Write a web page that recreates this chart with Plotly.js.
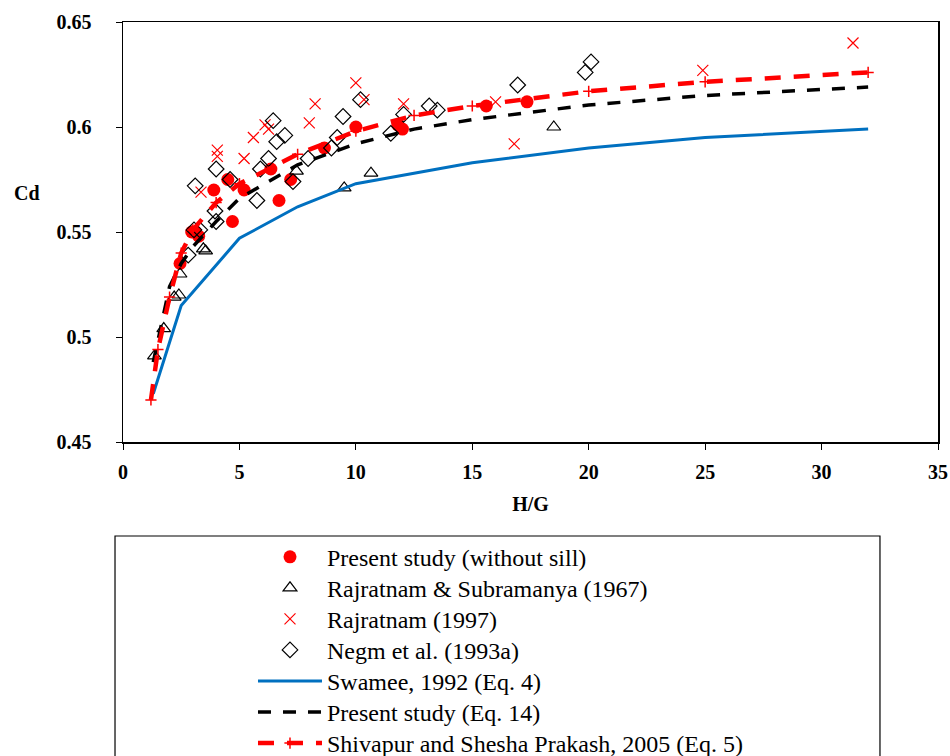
<!DOCTYPE html>
<html>
<head>
<meta charset="utf-8">
<script src="https://cdn.plot.ly/plotly-3.0.1.min.js"></script>
<style>html,body{margin:0;padding:0;background:#fff;}#chart{width:950px;height:756px;}</style>
</head>
<body>
<div id="chart"></div>
<script>
// Present study (without sill)
const presentX = [2.45, 2.95, 3.1, 3.25, 3.9, 4.5, 4.7, 5.2, 6.35, 6.7, 7.2, 8.65, 10.0, 11.8, 12.0, 15.6, 17.35];
const presentY = [0.535, 0.550, 0.550, 0.548, 0.570, 0.575, 0.555, 0.570, 0.580, 0.565, 0.575, 0.590, 0.600, 0.601, 0.599, 0.610, 0.612];
// Rajratnam & Subramanya (1967)
const rsX = [1.35, 1.75, 2.2, 2.4, 2.45, 3.45, 3.55, 7.45, 9.5, 10.65, 18.5];
const rsY = [0.491, 0.504, 0.519, 0.520, 0.530, 0.542, 0.541, 0.579, 0.571, 0.578, 0.600];
// Rajratnam (1997)
const rajX = [3.35, 4.05, 4.05, 5.2, 5.6, 6.1, 6.25, 8.0, 8.25, 10.0, 10.35, 12.05, 16.0, 16.8, 24.9, 31.35];
const rajY = [0.569, 0.589, 0.586, 0.585, 0.595, 0.601, 0.599, 0.602, 0.611, 0.621, 0.613, 0.611, 0.612, 0.592, 0.627, 0.640];
// Negm et al. (1993a)
const negmX = [2.8, 3.05, 3.3, 3.1, 3.95, 4.0, 4.0, 4.6, 5.75, 5.9, 6.25, 6.45, 6.6, 6.95, 7.3, 7.95, 8.95, 9.2, 9.45, 10.2, 11.5, 12.05, 13.15, 13.5, 16.95, 19.85, 20.1];
const negmY = [0.539, 0.551, 0.551, 0.572, 0.560, 0.555, 0.580, 0.575, 0.565, 0.580, 0.585, 0.603, 0.593, 0.596, 0.574, 0.585, 0.590, 0.595, 0.605, 0.613, 0.597, 0.606, 0.610, 0.608, 0.620, 0.626, 0.631];
// Swamee, 1992 (Eq. 4)
const swameeX = [1.3, 2.5, 5, 7.5, 10, 15, 20, 25, 32];
const swameeY = [0.473, 0.515, 0.547, 0.562, 0.573, 0.583, 0.590, 0.595, 0.599];
// Present study (Eq. 14)
const eq14X = [1.3, 1.5, 2, 2.5, 3, 4, 5, 7.5, 10, 12.5, 15, 20, 25, 32];
const eq14Y = [0.488, 0.498, 0.524, 0.535, 0.543, 0.555, 0.566, 0.582, 0.592, 0.599, 0.6035, 0.6105, 0.615, 0.619];
// Shivapur and Shesha Prakash, 2005 (Eq. 5)
const shivX = [1.2, 1.5, 2, 2.5, 3, 4, 5, 7.5, 10, 12.5, 15, 20, 25, 32];
const shivY = [0.470, 0.494, 0.519, 0.540, 0.551, 0.564, 0.573, 0.587, 0.598, 0.6055, 0.610, 0.617, 0.6215, 0.626];

const names = [
  'Present study (without sill)',
  'Rajratnam & Subramanya (1967)',
  'Rajratnam (1997)',
  'Negm et al. (1993a)',
  'Swamee, 1992 (Eq. 4)',
  'Present study (Eq. 14)',
  'Shivapur and Shesha Prakash, 2005 (Eq. 5)'
];

const SERIF = 'Liberation Serif';
const legendIds = ['legend', 'legend2', 'legend3', 'legend4', 'legend5', 'legend6', 'legend7'];

const traces = [
  {x: presentX, y: presentY, name: names[0], mode: 'markers', type: 'scatter',
   marker: {symbol: 'circle', size: 13, color: '#ff0000'}},
  {x: rsX, y: rsY, name: names[1], mode: 'markers', type: 'scatter',
   marker: {symbol: 'triangle-up-open', size: 12, color: '#000000', line: {width: 1.2}}},
  {x: rajX, y: rajY, name: names[2], mode: 'markers', type: 'scatter',
   marker: {symbol: 'x-thin-open', size: 11, color: '#ff0000', line: {width: 1.2, color: '#ff0000'}}},
  {x: negmX, y: negmY, name: names[3], mode: 'markers', type: 'scatter',
   marker: {symbol: 'diamond-open', size: 12, color: '#000000', line: {width: 1.2}}},
  {x: swameeX, y: swameeY, name: names[4], mode: 'lines', type: 'scatter',
   line: {color: '#0070c0', width: 3}},
  {x: eq14X, y: eq14Y, name: names[5], mode: 'lines', type: 'scatter',
   line: {color: '#000000', width: 3.5, dash: '13px,12px'}},
  {x: shivX, y: shivY, name: names[6], mode: 'lines+markers', type: 'scatter',
   line: {color: '#ff0000', width: 4.5, dash: '16px,13px'},
   marker: {symbol: 'cross-thin-open', size: 8, color: '#ff0000', line: {width: 1.5, color: '#ff0000'}}}
];
traces.forEach((t, i) => { t.legend = legendIds[i]; });

const axisFont = {family: SERIF, size: 20, color: '#000', weight: 'bold'};

const layout = {
  width: 950, height: 756,
  margin: {l: 123, r: 12, t: 22, b: 314},
  font: {family: SERIF, size: 20, color: '#000'},
  paper_bgcolor: '#fff', plot_bgcolor: '#fff',
  showlegend: true,
  xaxis: {
    range: [0, 35], dtick: 5, tick0: 0,
    showgrid: false, zeroline: false,
    showline: true, linecolor: '#000', linewidth: 1.5, mirror: true,
    ticks: 'outside', ticklen: 6, tickwidth: 1, tickcolor: '#000',
    tickfont: axisFont, ticklabelstandoff: 5,
    title: {text: 'H/G', font: axisFont, standoff: 15}
  },
  yaxis: {
    range: [0.45, 0.65], dtick: 0.05, tick0: 0.45,
    showgrid: false, zeroline: false,
    showline: true, linecolor: '#000', linewidth: 1.5, mirror: true,
    ticks: 'outside', ticklen: 6, tickwidth: 1, tickcolor: '#000',
    tickfont: axisFont, ticklabelstandoff: 20
  },
  annotations: [
    {text: 'Cd', xref: 'paper', yref: 'paper', x: -0.118, y: 0.593, showarrow: false,
     xanchor: 'center', yanchor: 'middle', font: axisFont}
  ],
  shapes: [
    {type: 'rect', xref: 'paper', yref: 'paper', x0: -0.0098, x1: 0.9288, y0: -0.2238, y1: -0.75,
     line: {color: '#000', width: 1.2}, fillcolor: 'rgba(0,0,0,0)', layer: 'above'}
  ]
};

// one legend per row, stacked like the reference legend box
const rowTop0 = 534.7, rowStep = 31.05;
legendIds.forEach((id, i) => {
  layout[id] = {
    xref: 'paper', yref: 'container',
    x: 0.1595, y: 1 - (rowTop0 + i * rowStep) / 756, xanchor: 'left', yanchor: 'top',
    itemwidth: 64,
    font: {family: SERIF, size: 24, color: '#000'},
    bgcolor: 'rgba(0,0,0,0)', borderwidth: 0
  };
});

Plotly.newPlot('chart', traces, layout, {displayModeBar: false, staticPlot: true});
</script>
</body>
</html>
